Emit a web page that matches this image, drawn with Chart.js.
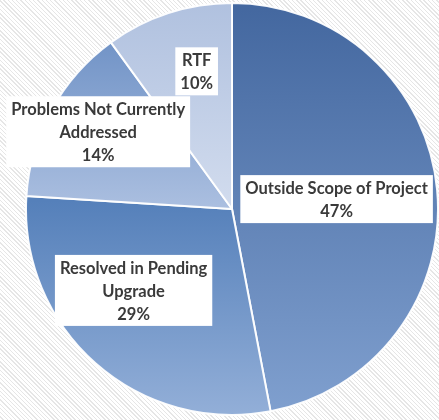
<!DOCTYPE html>
<html>
<head>
<meta charset="utf-8">
<script src="https://cdn.jsdelivr.net/npm/chart.js@4.4.1/dist/chart.umd.min.js"></script>
<style>
  html, body { margin: 0; padding: 0; }
  body {
    width: 439px;
    height: 420px;
    background: repeating-linear-gradient(45deg, #ffffff 0px, #ffffff 2px, #e6e6e6 2px, #e6e6e6 3px);
  }
  #wrap { width: 439px; height: 420px; position: relative; }
</style>
</head>
<body>
<div id="wrap"><canvas id="pieChart"></canvas></div>
<script>
// ===================== data =====================
const categories = [
  "Outside Scope of Project",
  "Resolved in Pending\nUpgrade",
  "Problems Not Currently\nAddressed",
  "RTF",
];
const shares = [47, 29, 14, 10];

// gradient stops per slice (position over pie height, colour)
const sliceStops = [
  [[0, "#43679f"], [1, "#80a0cf"]],
  [[0.48, "#5580ba"], [1, "#93afd8"]],
  [[0.1, "#7294c7"], [0.5, "#abbfe0"]],
  [[0, "#b0c1df"], [0.5, "#d2dcee"]],
];

// label placement: fraction of radius, angle shift (deg)
const labelPlace = [
  [0.51, 0],
  [0.62, 9],
  [0.75, 1.2],
  [0.69, 3.6],
];

const FONT = "bold 16.5px Lato";
const TEXT_COLOR = "#3a3a3a";

// ===================== label boxes =====================
const boxLabels = {
  id: "boxLabels",
  afterDatasetsDraw(chart) {
    const ctx = chart.ctx;
    const meta = chart.getDatasetMeta(0);
    ctx.save();
    ctx.font = FONT;
    ctx.textAlign = "center";
    ctx.textBaseline = "middle";
    meta.data.forEach((arc, i) => {
      const p = arc.getProps(["x", "y", "startAngle", "endAngle", "outerRadius"], true);
      const mid = (p.startAngle + p.endAngle) / 2 + (labelPlace[i][1] * Math.PI) / 180;
      const r = p.outerRadius * labelPlace[i][0];
      const cx = p.x + Math.cos(mid) * r;
      const cy = p.y + Math.sin(mid) * r;

      const lines = categories[i].split("\n").concat([shares[i] + "%"]);
      const lineH = 23;
      let w = 0;
      lines.forEach((l) => (w = Math.max(w, ctx.measureText(l).width)));
      const bw = w + 10;
      const bh = lines.length * lineH + 2;

      ctx.fillStyle = "#ffffff";
      ctx.fillRect(cx - bw / 2, cy - bh / 2, bw, bh);

      ctx.fillStyle = TEXT_COLOR;
      lines.forEach((l, k) => {
        ctx.fillText(l, cx, cy - ((lines.length - 1) * lineH) / 2 + k * lineH + 1);
      });
    });
    ctx.restore();
  },
};

// ===================== chart =====================
const canvas = document.getElementById("pieChart");
const ctx = canvas.getContext("2d");

new Chart(ctx, {
  type: "pie",
  data: {
    labels: categories,
    datasets: [
      {
        data: shares,
        backgroundColor: (c) => {
          const area = c.chart.chartArea;
          if (!area) return "#5580ba";
          const g = c.chart.ctx.createLinearGradient(0, area.top, 0, area.bottom);
          sliceStops[c.dataIndex].forEach((s) => g.addColorStop(s[0], s[1]));
          return g;
        },
        borderColor: "rgba(255,255,255,0.95)",
        borderWidth: 2,
      },
    ],
  },
  options: {
    responsive: true,
    maintainAspectRatio: false,
    animation: false,
    layout: { padding: { left: 25, right: 0, top: 2, bottom: 4 } },
    plugins: {
      legend: { display: false },
      tooltip: { enabled: false },
    },
  },
  plugins: [boxLabels],
});
</script>
</body>
</html>
